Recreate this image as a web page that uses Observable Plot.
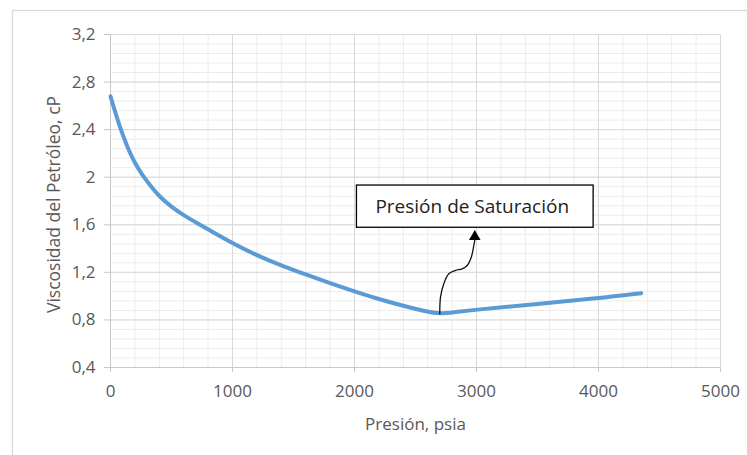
<!DOCTYPE html>
<html><head><meta charset="utf-8">
<script src="https://cdn.jsdelivr.net/npm/d3@7"></script>
<script src="https://cdn.jsdelivr.net/npm/@observablehq/plot@0.6"></script>
<style>html,body{margin:0;padding:0;background:#fff;}</style>
</head><body><div id="chart"></div>
<script>
// ---- data ----
const pressure  = [0, 35, 70, 110, 150, 200, 260, 330, 400, 500, 600, 700, 800, 1000, 1200, 1400, 1600, 1800, 2000, 2200, 2400, 2600, 2700, 2800, 3000, 3500, 4000, 4350];
const viscosity = [2.68, 2.56, 2.445, 2.33, 2.225, 2.118, 2.02, 1.925, 1.838, 1.75, 1.68, 1.62, 1.562, 1.445, 1.342, 1.258, 1.182, 1.108, 1.04, 0.975, 0.918, 0.866, 0.852, 0.862, 0.887, 0.935, 0.982, 1.025];

const xTicks = [0, 1000, 2000, 3000, 4000, 5000];
const xTickLabels = ["0", "1000", "2000", "3000", "4000", "5000"];
const yTicks = [0.4, 0.8, 1.2, 1.6, 2, 2.4, 2.8, 3.2];
const yTickLabels = ["0,4", "0,8", "1,2", "1,6", "2", "2,4", "2,8", "3,2"];

const xTitle = "Presión, psia";
const yTitle = "Viscosidad del Petróleo, cP";

// annotation (data coordinates)
const noteText = ["Presión de Saturación"];
const noteBoxPressure = [2020, 3960];
const noteBoxViscosity = [1.575, 1.93];
const noteTextPos = [2965, 1.75];
const arrowPressure  = [2699, 2705, 2732, 2773, 2828, 2883, 2924, 2957, 2978, 2986];
const arrowViscosity = [0.852, 0.991, 1.104, 1.188, 1.216, 1.230, 1.258, 1.327, 1.426, 1.47];
const arrowHead = [2986, 1.50];

// ---- build ----
const series = pressure.map((p, i) => ({p, v: viscosity[i]}));
const arrowPts = arrowPressure.map((p, i) => ({p, v: arrowViscosity[i]}));

const plot = Plot.plot({
  width: 747,
  height: 455,
  marginLeft: 110,
  marginRight: 27,
  marginTop: 34,
  marginBottom: 88,
  style: {fontFamily: "'Open Sans', sans-serif", fontSize: "17px", color: "#595959", background: "#fff", overflow: "visible"},
  x: {domain: [0, 5000]},
  y: {domain: [0.4, 3.2]},
  marks: [
    Plot.gridX(d3.range(0, 5001, 200), {stroke: "#ececec", strokeOpacity: 1, strokeWidth: 1}),
    Plot.gridY(d3.range(0.4, 3.21, 0.08), {stroke: "#ececec", strokeOpacity: 1, strokeWidth: 1}),
    Plot.gridX(xTicks, {stroke: "#d9d9d9", strokeOpacity: 1, strokeWidth: 1}),
    Plot.gridY(yTicks, {stroke: "#d9d9d9", strokeOpacity: 1, strokeWidth: 1}),
    Plot.ruleY([0.4], {stroke: "#c8c8c8", strokeWidth: 1}),
    Plot.ruleX([0], {stroke: "#c8c8c8", strokeWidth: 1}),
    Plot.axisX(xTicks, {tickSize: 5, tickPadding: 12, stroke: "#c8c8c8", fill: "#595959", fontSize: 17,
      tickFormat: d => xTickLabels[xTicks.indexOf(d)], label: null}),
    Plot.axisY(yTicks, {tickSize: 6, tickPadding: 9, stroke: "#c8c8c8", fill: "#595959", fontSize: 17,
      tickFormat: d => yTickLabels[yTicks.indexOf(d)], label: null}),
    Plot.text([xTitle], {frameAnchor: "bottom", dy: 57, fontSize: 17, fill: "#595959", lineAnchor: "middle", textAnchor: "middle"}),
    Plot.text([yTitle], {frameAnchor: "left", rotate: -90, dx: -56, dy: 3.5, fontSize: 17.5, fill: "#595959", lineAnchor: "middle", textAnchor: "middle"}),
    Plot.line(series, {x: "p", y: "v", stroke: "#5b9bd5", strokeWidth: 4, curve: "basis", strokeLinecap: "round", strokeLinejoin: "round"}),
    Plot.line(arrowPts, {x: "p", y: "v", stroke: "#111", strokeWidth: 1.3, curve: "catmull-rom"}),
    Plot.dot([arrowHead], {x: d => d[0], y: d => d[1], symbol: "triangle", r: 4.3, fill: "#000", stroke: null}),
    Plot.rect([0], {x1: () => noteBoxPressure[0], x2: () => noteBoxPressure[1], y1: () => noteBoxViscosity[0], y2: () => noteBoxViscosity[1],
      fill: "#fff", stroke: "#000", strokeWidth: 1.3}),
    Plot.text(noteText, {x: () => noteTextPos[0], y: () => noteTextPos[1], fontSize: 19, fill: "#222", lineAnchor: "middle", textAnchor: "middle"})
  ]
});

d3.select(plot).append("rect")
  .attr("x", 12.5).attr("y", 10.5).attr("width", 760).attr("height", 480)
  .attr("fill", "none").attr("stroke", "#d9d9d9").attr("stroke-width", 1.3);

document.getElementById("chart").appendChild(plot);
</script>
</body></html>
